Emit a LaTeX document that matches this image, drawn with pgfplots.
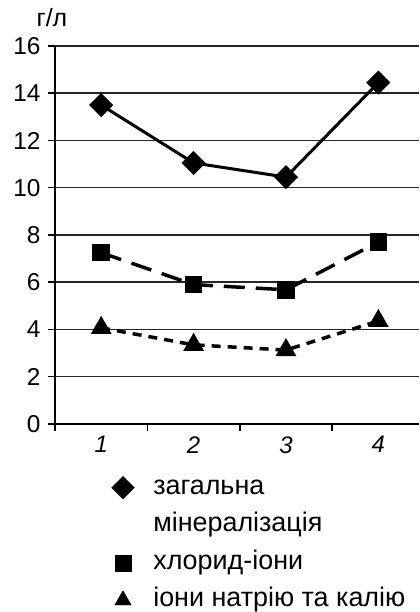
\documentclass[border=0pt]{standalone}
\usepackage{pgfplots}
\pgfplotsset{compat=1.18}
\usepackage{fontspec}
\setmainfont{Liberation Sans}
\begin{document}
\begin{tikzpicture}[x=1bp,y=1bp]
\begin{axis}[
  at={(0,0)}, anchor=south west,
  scale only axis, width=364bp, height=378bp,
  xmin=0.5, xmax=4.44, ymin=0, ymax=16,
  axis lines=left,
  axis line style={-, line width=1.8bp, black},
  clip=false,
  ymajorgrids, grid style={line width=1.5bp, black!85},
  ytick={0,2,...,16},
  xtick={0.5,1.5,2.5,3.5}, xticklabels={},
  extra x ticks={1,2,3,4}, extra x tick labels={\textit{1},\textit{2},\textit{3},\textit{4}},
  extra x tick style={major tick length=0pt, tick label style={yshift=-9bp, font=\fontsize{24}{28}\selectfont}},
  tick align=outside, major tick length=7bp,
  tick style={line width=1.5bp, black},
  /pgf/number format/assume math mode=true,
  ticklabel style={font=\fontsize{24.5}{28}\selectfont},
  yticklabel style={xshift=-4bp},
  legend cell align=left,
  legend style={at={(axis description cs:0.147,-0.122)}, anchor=north west, draw=none, fill=none,
    font=\fontsize{27}{33}\selectfont, row sep=6.5bp,
    nodes={text height=20bp, text depth=7bp},
    /tikz/every odd column/.append style={column sep=17bp}},
]
\addplot[black, line width=3bp, mark=square*, mark size=7bp, mark options={rotate=45, solid}, forget plot]
  coordinates {(1,13.5) (2,11.05) (3,10.45) (4,14.45)};
\addplot[black, line width=3.5bp, dash pattern=on 21bp off 11bp, mark=square*, mark size=7bp, mark options={solid}, forget plot]
  coordinates {(1,7.25) (2,5.9) (3,5.68) (4,7.7)};
\addplot[black, line width=3.5bp, dash pattern=on 9bp off 7bp, mark=triangle*, mark size=8.5bp, mark options={solid}, forget plot]
  coordinates {(1,4.07) (2,3.35) (3,3.13) (4,4.36)};
\addlegendimage{only marks, black, mark=square*, mark size=8bp, mark options={rotate=45}}
\addlegendentry{загальна}
\addlegendimage{empty legend}
\addlegendentry{мінералізація}
\addlegendimage{only marks, black, mark=square*, mark size=8bp}
\addlegendentry{хлорид-іони}
\addlegendimage{only marks, black, mark=triangle*, mark size=9.5bp}
\addlegendentry{іони натрію та калію}
\end{axis}
\node[anchor=base, font=\fontsize{25}{30}\selectfont] at (-3,397) {г/л};
\pgfresetboundingbox
\path (-55,-188) rectangle (364,424);
\end{tikzpicture}
\end{document}
